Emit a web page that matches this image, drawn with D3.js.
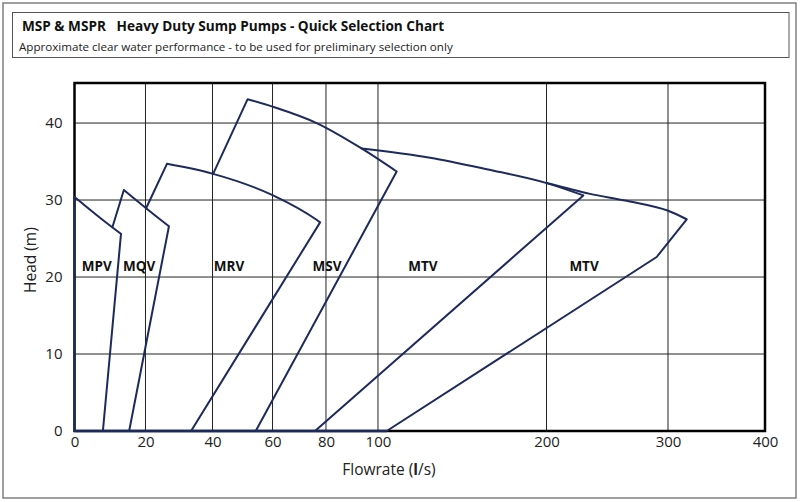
<!DOCTYPE html>
<html>
<head>
<meta charset="utf-8">
<script src="https://cdn.jsdelivr.net/npm/d3@7/dist/d3.min.js"></script>
<style>
	body { margin: 0; background: #fff; }
	svg text { font-family: "Open Sans", "Noto Sans", sans-serif; }
</style>
</head>
<body>
<svg class="selection" width="800" height="502"></svg>
<script>
// flowrate ticks (l/s) - the axis is not linear, each tick is its own stop
var xTicks = [0, 20, 40, 60, 80, 100, 200, 300, 400];
var yTicks = [0, 10, 20, 30, 40];

// pump envelopes, [flowrate l/s, head m]
var mpv = [[0, 0], [0, 30.4], [7.7, 27.5], [13.1, 25.6], [8.0, 0]];
var mqv = [[10.7, 26.5], [13.9, 31.3], [24.3, 27.5], [27.0, 26.6], [15.4, 0]];
var mrv = [[20.15, 28.9], [26.4, 34.7], [40.2, 33.4], [60.2, 30.6], [76.6, 27.4], [77.8, 27.1], [33.6, 0]];
var msv = [[40.2, 33.4], [51.7, 43.1], [60.3, 42.1], [76.5, 40.0], [93.7, 36.7], [111.1, 33.7], [54.4, 0]];
var mtvSmall = [[93.7, 36.7], [130.9, 35.5], [164.5, 34.0], [200.2, 32.2], [230.3, 30.6], [75.9, 0]];
var mtvLarge = [[200.2, 32.2], [235.8, 30.8], [266.0, 29.9], [300.3, 28.6], [319.3, 27.5], [290.7, 22.6], [105.2, 0]];

// where the head curve of each envelope starts / ends (index into the arrays above)
var curveStart = [1, 1, 1, 1, 0, 0];
var curveEnd = [3, 3, 5, 5, 4, 4];

var pumpNames = ['MPV', 'MQV', 'MRV', 'MSV', 'MTV', 'MTV'];
var labelFlow = [6.3, 18.2, 45.5, 80.4, 126.7, 230.9];
var labelHead = 21.6;

var chart = {
	initialize: function(){
		var self = this;
		self._render_frame();
		self._render_view();
		return self;
	},
	_render_frame: function(){
		var svg = d3.select('svg.selection');
		svg.append('rect')
			.attr('x', 3).attr('y', 3).attr('width', 793).attr('height', 495)
			.attr('fill', 'none').attr('stroke', '#808080').attr('stroke-width', 1.5);
		svg.append('rect')
			.attr('x', 12.5).attr('y', 12.5).attr('width', 776.5).attr('height', 45)
			.attr('fill', 'none').attr('stroke', '#555').attr('stroke-width', 1);
		svg.append('text')
			.attr('x', 22).attr('y', 30.5)
			.attr('font-size', 13.6).attr('font-weight', 'bold').attr('fill', '#111')
			.style('white-space', 'pre')
			.text('MSP & MSPR   Heavy Duty Sump Pumps - Quick Selection Chart');
		svg.append('text')
			.attr('x', 19).attr('y', 51)
			.attr('font-size', 11.6).attr('fill', '#222')
			.text('Approximate clear water performance - to be used for preliminary selection only');
	},
	_render_view: function(){
		var left = 74.5, right = 765, top = 83, bottom = 431;
		var width = right - left;
		var svg = d3.select('svg.selection');

		// stops as fractions of the plot width
		var stops = [0, 0.1028, 0.1999, 0.2868, 0.3642, 0.4395, 0.6836, 0.8595, 1];
		var x = d3.scaleLinear()
			.domain(xTicks)
			.range(stops.map(function(s){ return left + s * width; }));
		var y = d3.scaleLinear()
			.domain([0, 45.2])
			.range([bottom, top]);

		var g = svg.append('g').attr('id', 'plot');

		// grid
		g.selectAll('.vgrid')
			.data(xTicks.slice(1, -1))
			.enter().append('line')
			.attr('class', 'vgrid')
			.attr('x1', function(d){ return x(d); })
			.attr('x2', function(d){ return x(d); })
			.attr('y1', top).attr('y2', bottom)
			.attr('stroke', '#222').attr('stroke-width', 1);
		g.selectAll('.hgrid')
			.data(yTicks.slice(1))
			.enter().append('line')
			.attr('class', 'hgrid')
			.attr('x1', left).attr('x2', right)
			.attr('y1', function(d){ return y(d); })
			.attr('y2', function(d){ return y(d); })
			.attr('stroke', '#222').attr('stroke-width', 1);

		g.append('rect')
			.attr('x', left).attr('y', top)
			.attr('width', width).attr('height', bottom - top)
			.attr('fill', 'none').attr('stroke', '#000').attr('stroke-width', 2.5);

		// pump envelopes: straight edges, smooth head curve
		var straight = d3.line()
			.x(function(d){ return x(d[0]); })
			.y(function(d){ return y(d[1]); });
		var smooth = d3.line()
			.x(function(d){ return x(d[0]); })
			.y(function(d){ return y(d[1]); })
			.curve(d3.curveMonotoneX);
		var pumps = [mpv, mqv, mrv, msv, mtvSmall, mtvLarge];
		pumps.forEach(function(pts, i){
			var cs = curveStart[i], ce = curveEnd[i];
			var parts = [];
			if(cs > 0) parts.push(straight(pts.slice(0, cs + 1)));
			parts.push(smooth(pts.slice(cs, ce + 1)));
			parts.push(straight(pts.slice(ce)));
			g.append('path')
				.attr('class', 'pump')
				.attr('d', parts.join(''))
				.attr('fill', 'none')
				.attr('stroke', '#1d2a5c')
				.attr('stroke-width', 2)
				.attr('stroke-linejoin', 'round')
				.attr('stroke-linecap', 'round');
		});
		// baseline under the small pumps
		g.append('path')
			.attr('d', straight([[0, 0], [mtvLarge[mtvLarge.length - 1][0], 0]]))
			.attr('stroke', '#1d2a5c').attr('stroke-width', 2.5);

		g.selectAll('.pump-label')
			.data(pumpNames)
			.enter().append('text')
			.attr('class', 'pump-label')
			.attr('x', function(d, i){ return x(labelFlow[i]); })
			.attr('y', y(labelHead) + 6)
			.attr('text-anchor', 'middle')
			.attr('font-size', 13.5).attr('font-weight', 'bold').attr('fill', '#111')
			.text(function(d){ return d; });

		// axes
		var xAxis = d3.axisBottom(x).tickValues(xTicks).tickSize(0).tickPadding(5);
		svg.append('g')
			.attr('transform', 'translate(0,' + bottom + ')')
			.call(xAxis)
			.call(function(a){ a.select('.domain').remove(); })
			.selectAll('text')
			.attr('font-size', 15).attr('fill', '#222')
			.style('font-family', '"Open Sans", sans-serif');
		var yAxis = d3.axisLeft(y).tickValues(yTicks).tickSize(0).tickPadding(12);
		svg.append('g')
			.attr('transform', 'translate(' + left + ',0)')
			.call(yAxis)
			.call(function(a){ a.select('.domain').remove(); })
			.selectAll('text')
			.attr('font-size', 15).attr('fill', '#222')
			.style('font-family', '"Open Sans", sans-serif');

		var xt = svg.append('text')
			.attr('x', 389).attr('y', 475)
			.attr('text-anchor', 'middle')
			.attr('font-size', 15.5).attr('fill', '#222');
		xt.append('tspan').text('Flowrate (');
		xt.append('tspan').attr('font-weight', 'bold').text('l');
		xt.append('tspan').text('/s)');

		svg.append('text')
			.attr('transform', 'translate(36,293) rotate(-90)')
			.attr('font-size', 15.5).attr('fill', '#222')
			.text('Head (m)');
	}
};

chart.initialize();
</script>
</body>
</html>
